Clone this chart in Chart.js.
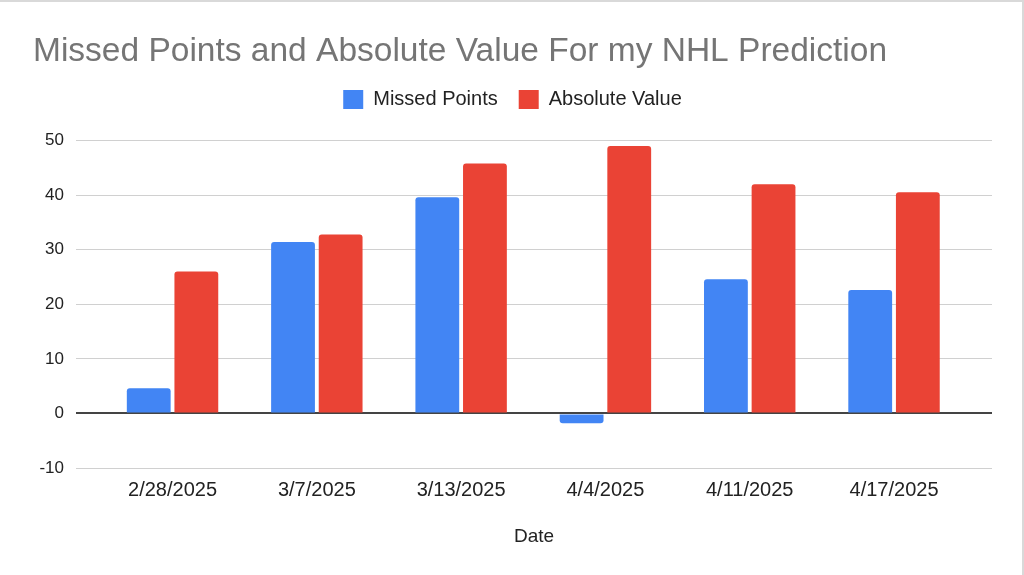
<!DOCTYPE html>
<html>
<head>
<meta charset="utf-8">
<script src="https://cdn.jsdelivr.net/npm/chart.js@4.4.1/dist/chart.umd.min.js"></script>
<style>
  html, body { margin: 0; padding: 0; background: #fff; }
  #wrap { position: relative; width: 1024px; height: 575px; box-sizing: border-box; border-top: 2px solid #d9d9d9; border-right: 2px solid #d9d9d9; }
  canvas { display: block; }
</style>
</head>
<body>
<div id="wrap"><canvas id="grafico" width="1022" height="573"></canvas></div>
<script>
// datos
var fechas = ['2/28/2025', '3/7/2025', '3/13/2025', '4/4/2025', '4/11/2025', '4/17/2025'];
var puntosFallados = [4.6, 31.4, 39.6, -1.8, 24.6, 22.6];
var valorAbsoluto = [26.0, 32.8, 45.8, 49.0, 42.0, 40.5];
var ticksY = [-10, 0, 10, 20, 30, 40, 50];

var fuente = "'Liberation Sans', Arial, sans-serif";

function aPuntos(arr) {
  return arr.map(function (v, i) { return { x: i, y: v }; });
}

// deja algo de aire entre la leyenda y el area del grafico
var espacioLeyenda = {
  id: 'espacioLeyenda',
  beforeInit: function (chart) {
    var fitOriginal = chart.legend.fit;
    chart.legend.fit = function () {
      fitOriginal.bind(chart.legend)();
      this.height += 21;
    };
  }
};

var ctx = document.getElementById('grafico').getContext('2d');

var grafico = new Chart(ctx, {
  type: 'bar',
  data: {
    datasets: [{
      label: 'Missed Points',
      data: aPuntos(puntosFallados),
      backgroundColor: '#4285f4',
      borderRadius: 3,
      categoryPercentage: 0.66,
      barPercentage: 0.92
    }, {
      label: 'Absolute Value',
      data: aPuntos(valorAbsoluto),
      backgroundColor: '#ea4335',
      borderRadius: 3,
      categoryPercentage: 0.66,
      barPercentage: 0.92
    }]
  },
  plugins: [espacioLeyenda],
  options: {
    responsive: false,
    animation: false,
    layout: { padding: { left: 33, right: 30, top: 0, bottom: 0 } },
    plugins: {
      title: {
        display: true,
        text: 'Missed Points and Absolute Value For my NHL Prediction',
        align: 'start',
        color: '#757575',
        font: { family: fuente, size: 33.5, weight: 'normal', lineHeight: 1 },
        padding: { top: 33, bottom: 0 }
      },
      legend: {
        position: 'top',
        labels: {
          color: '#222',
          font: { family: fuente, size: 20 },
          boxWidth: 20,
          boxHeight: 19,
          padding: 21
        }
      },
      tooltip: { enabled: false }
    },
    scales: {
      x: {
        type: 'linear',
        min: -0.669,
        max: 5.679,
        offset: false,
        grid: { display: false },
        border: { display: false },
        afterBuildTicks: function (s) {
          s.ticks = fechas.map(function (f, i) { return { value: i }; });
        },
        afterFit: function (s) { s.height = 107; },
        ticks: {
          autoSkip: false,
          maxRotation: 0,
          padding: 2,
          color: '#222',
          font: { family: fuente, size: 20 },
          callback: function (v) { return fechas[v]; }
        },
        title: {
          display: true,
          text: 'Date',
          color: '#222',
          font: { family: fuente, size: 19 },
          padding: { top: 0, bottom: 27 }
        }
      },
      y: {
        min: -10,
        max: 50,
        afterBuildTicks: function (s) {
          s.ticks = ticksY.map(function (v) { return { value: v }; });
        },
        afterFit: function (s) { s.width = 43; },
        border: { display: false },
        grid: {
          drawTicks: false,
          color: function (c) { return c.tick && c.tick.value === 0 ? '#444' : '#d0d0d0'; },
          lineWidth: function (c) { return c.tick && c.tick.value === 0 ? 2 : 1; }
        },
        ticks: {
          padding: 12,
          color: '#222',
          font: { family: fuente, size: 17 }
        }
      }
    }
  }
});
</script>
</body>
</html>
